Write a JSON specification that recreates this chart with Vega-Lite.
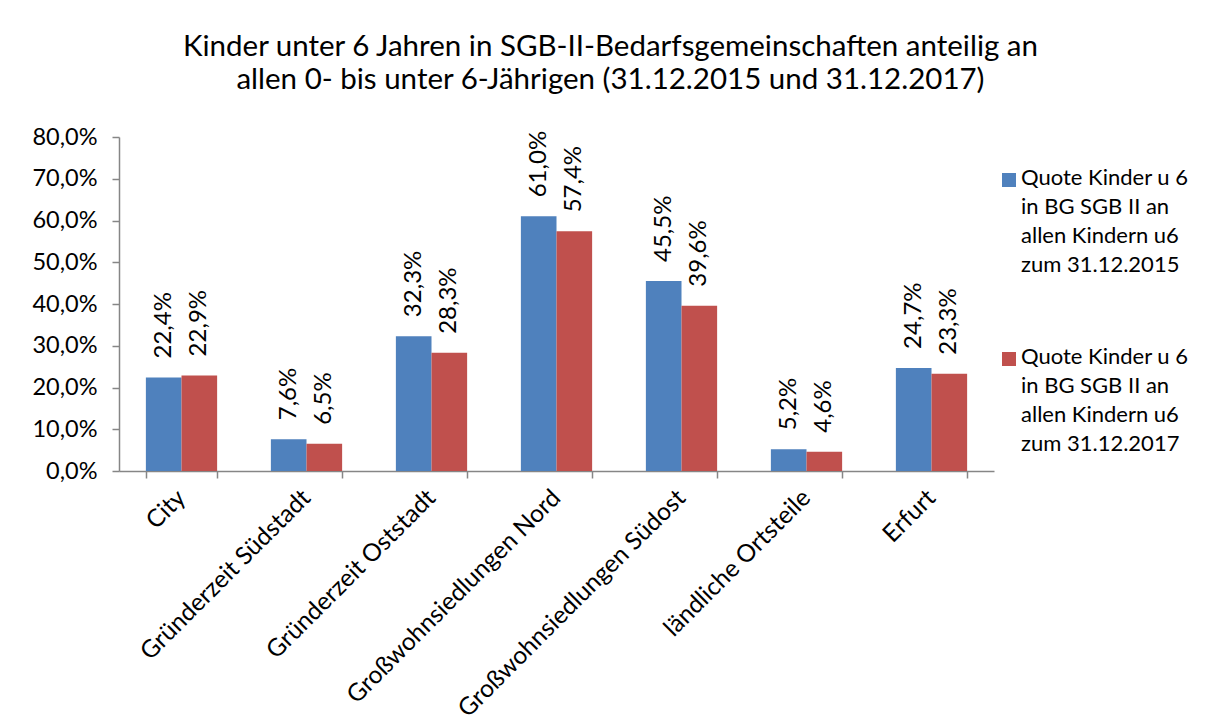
{
  "$schema": "https://vega.github.io/schema/vega-lite/v6.json",
  "width": 875,
  "height": 334,
  "padding": {"left": 31, "top": 31, "right": 5, "bottom": 5},
  "background": "white",
  "title": {
    "text": ["Kinder unter 6 Jahren in SGB-II-Bedarfsgemeinschaften anteilig an", "allen 0- bis unter 6-Jährigen (31.12.2015 und 31.12.2017)"],
    "font": "Lato", "fontSize": 29.5, "fontWeight": "normal", "color": "black",
    "anchor": "middle", "frame": "bounds", "lineHeight": 33, "offset": 30
  },
  "data": {
    "values": [
      {"gebiet": "City", "serie": "2015", "quote": 0.224},
      {"gebiet": "City", "serie": "2017", "quote": 0.229},
      {"gebiet": "Gründerzeit Südstadt", "serie": "2015", "quote": 0.076},
      {"gebiet": "Gründerzeit Südstadt", "serie": "2017", "quote": 0.065},
      {"gebiet": "Gründerzeit Oststadt", "serie": "2015", "quote": 0.323},
      {"gebiet": "Gründerzeit Oststadt", "serie": "2017", "quote": 0.283},
      {"gebiet": "Großwohnsiedlungen Nord", "serie": "2015", "quote": 0.610},
      {"gebiet": "Großwohnsiedlungen Nord", "serie": "2017", "quote": 0.574},
      {"gebiet": "Großwohnsiedlungen Südost", "serie": "2015", "quote": 0.455},
      {"gebiet": "Großwohnsiedlungen Südost", "serie": "2017", "quote": 0.396},
      {"gebiet": "ländliche Ortsteile", "serie": "2015", "quote": 0.052},
      {"gebiet": "ländliche Ortsteile", "serie": "2017", "quote": 0.046},
      {"gebiet": "Erfurt", "serie": "2015", "quote": 0.247},
      {"gebiet": "Erfurt", "serie": "2017", "quote": 0.233}
    ]
  },
  "encoding": {
    "x": {
      "field": "gebiet", "type": "nominal", "sort": null,
      "scale": {"paddingInner": 0.43, "paddingOuter": 0.215},
      "axis": {
        "title": null, "labelAngle": -45, "labelAlign": "right", "labelBaseline": "middle",
        "labelFont": "Lato", "labelFontSize": 24.5, "labelLimit": 500,
        "labelColor": "black", "domainColor": "#868686", "tickColor": "#868686",
        "domainWidth": 1.5, "tickWidth": 1.5, "tickSize": 7, "tickBand": "extent", "labelPadding": 16
      }
    },
    "y": {
      "field": "quote", "type": "quantitative",
      "scale": {"domain": [0, 0.8]},
      "axis": {
        "title": null, "values": [0, 0.1, 0.2, 0.3, 0.4, 0.5, 0.6, 0.7, 0.8], "format": ".1%",
        "grid": false, "labelFont": "Lato", "labelFontSize": 23.5, "labelColor": "black",
        "domainColor": "#868686", "tickColor": "#868686", "domainWidth": 1.5, "tickWidth": 1.5,
        "tickSize": 7, "labelPadding": 15
      }
    },
    "xOffset": {"field": "serie", "type": "nominal", "sort": null},
    "color": {
      "field": "serie", "type": "nominal",
      "scale": {"domain": ["2015", "2017"], "range": ["#4F81BD", "#C0504D"]},
      "legend": {
        "orient": "none", "legendX": 879, "legendY": 32, "title": null,
        "labelFont": "Lato", "labelFontSize": 22, "labelColor": "black", "labelLimit": 400,
        "symbolType": "square", "symbolSize": 196, "symbolStrokeWidth": 0,
        "rowPadding": 70, "labelOffset": 1, "labelBaseline": "top",
        "labelExpr": "['Quote Kinder u 6', 'in BG SGB II an', 'allen Kindern u6', 'zum 31.12.' + datum.label]",
        "encode": {"labels": {"update": {"lineHeight": {"value": 29}, "dy": {"value": -12}}}}
      }
    }
  },
  "layer": [
    {"mark": {"type": "bar"}},
    {
      "mark": {"type": "text", "angle": -90, "align": "left", "baseline": "middle", "dx": 19, "font": "Lato", "fontSize": 24, "color": "black"},
      "encoding": {"text": {"field": "quote", "type": "quantitative", "format": ".1%"}, "color": {"value": "black"}}
    }
  ],
  "config": {
    "view": {"stroke": null},
    "locale": {"number": {"decimal": ",", "thousands": ".", "grouping": [3], "currency": ["", " €"], "percent": "%"}}
  }
}
